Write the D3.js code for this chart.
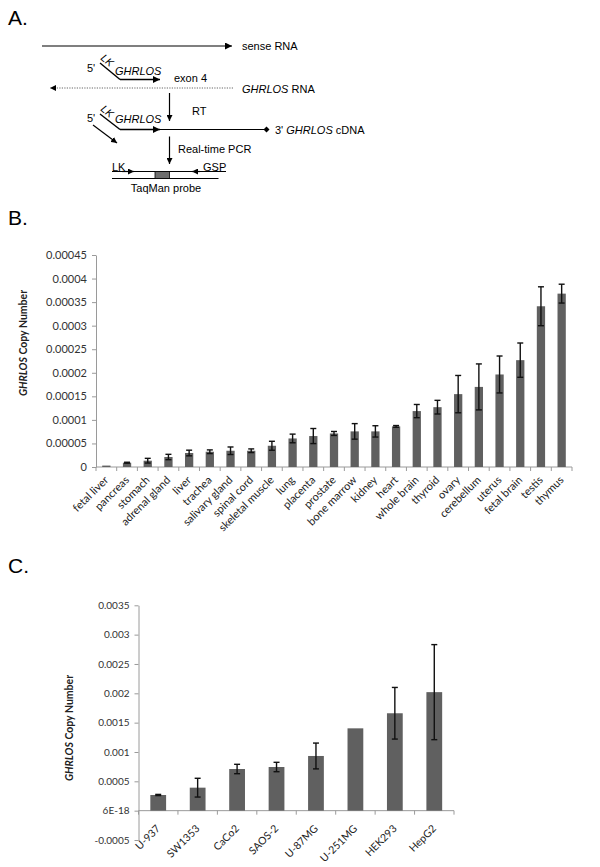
<!DOCTYPE html>
<html><head><meta charset="utf-8">
<script src="https://cdn.jsdelivr.net/npm/d3@7"></script>
<style>
body{margin:0;background:#fff;}
svg{display:block;}
</style></head>
<body>
<svg id="fig" width="600" height="867"></svg>
<script>
// ---------- Data ----------
const tissues = ["fetal liver","pancreas","stomach","adrenal gland","liver","trachea","salivary gland","spinal cord","skeletal muscle","lung","placenta","prostate","bone marrow","kidney","heart","whole brain","thyroid","ovary","cerebellum","uterus","fetal brain","testis","thymus"];
const tissueValues = [0.000003,0.0000091,0.0000134,0.0000212,0.0000297,0.0000324,0.0000345,0.0000345,0.0000451,0.0000606,0.0000657,0.0000712,0.0000756,0.0000756,0.0000862,0.0001187,0.000127,0.0001547,0.00017,0.0001964,0.0002268,0.0003412,0.000368];
const tissueErrors = [0,0.000001,0.000005,0.0000057,0.000006,0.0000039,0.000008,0.0000039,0.0000095,0.0000092,0.000016,0.0000042,0.0000165,0.000012,0.0000018,0.000014,0.0000145,0.0000396,0.0000488,0.0000392,0.0000364,0.0000413,0.00002];
const tissueTicks = [0,0.00005,0.0001,0.00015,0.0002,0.00025,0.0003,0.00035,0.0004,0.00045];
const tissueTickLabels = ["0","0.00005","0.0001","0.00015","0.0002","0.00025","0.0003","0.00035","0.0004","0.00045"];

const cellLines = ["U-937","SW1353","CaCo2","SAOS-2","U-87MG","U-251MG","HEK293","HepG2"];
const cellValues = [0.000267,0.000392,0.00071,0.000744,0.000932,0.001403,0.00166,0.00202];
const cellErrors = [0.00001,0.00016,0.00008,0.00008,0.00022,null,0.00044,0.00081];
const cellTicks = [-0.0005,0,0.0005,0.001,0.0015,0.002,0.0025,0.003,0.0035];
const cellTickLabels = ["-0.0005","6E-18","0.0005","0.001","0.0015","0.002","0.0025","0.003","0.0035"];

// ---------- Setup ----------
const svg = d3.select("#fig");
const AF = "'Liberation Sans', Arial, sans-serif";
const CF = "Lato, 'Open Sans', sans-serif";
const BAR = "#606060";
const AXIS = "#9a9a9a";

// defs arrowheads
const defs = svg.append("defs");
defs.append("marker").attr("id","arr").attr("viewBox","0 0 10 10").attr("refX",10).attr("refY",5)
  .attr("markerWidth",7).attr("markerHeight",7).attr("markerUnits","userSpaceOnUse").attr("orient","auto")
  .append("path").attr("d","M0,0L10,5L0,10Z").attr("fill","#000");
defs.append("marker").attr("id","arrs").attr("viewBox","0 0 10 10").attr("refX",10).attr("refY",5)
  .attr("markerWidth",6).attr("markerHeight",6).attr("markerUnits","userSpaceOnUse").attr("orient","auto")
  .append("path").attr("d","M0,0L10,5L0,10Z").attr("fill","#000");

// ---------- Panel labels ----------
[["A.",25],["B.",225],["C.",573]].forEach(([t,y])=>{
  svg.append("text").attr("x",8).attr("y",y).attr("font-family",AF).attr("font-size",21).attr("fill","#000").text(t);
});

// ---------- Panel A diagram ----------
const A = svg.append("g");
function line(x1,y1,x2,y2,opts={}){
  const l = A.append("line").attr("x1",x1).attr("y1",y1).attr("x2",x2).attr("y2",y2)
    .attr("stroke",opts.stroke||"#000").attr("stroke-width",opts.w||1.2);
  if(opts.dash) l.attr("stroke-dasharray",opts.dash);
  if(opts.end) l.attr("marker-end","url(#"+opts.end+")");
  return l;
}
function txt(x,y,s,opts={}){
  const t = A.append("text").attr("x",x).attr("y",y).attr("font-family",AF).attr("font-size",opts.size||11).attr("fill","#000").text(s);
  if(opts.rot) t.attr("transform",`rotate(${opts.rot},${x},${y})`);
  if(opts.anchor) t.attr("text-anchor",opts.anchor);
  return t;
}
function richTxt(x,y,parts,opts={}){
  const t = txt(x,y,"",opts);
  parts.forEach(([s,it])=>t.append("tspan").attr("font-style",it?"italic":"normal").text(s));
  return t;
}
// sense RNA
line(42,46,232,46,{end:"arr"});
txt(242,50,"sense RNA");
// primer 1
txt(87,72,"5'");
txt(100,59,"LK",{rot:40,size:10.5}).attr("font-style","italic");
line(100,63,120,79.5,{w:1.4});
line(120,79.5,160,79.5,{w:1.6,end:"arr"});
richTxt(115,75,[["GHRLOS",true]]);
txt(174,82,"exon 4");
// antisense RNA dotted
line(233,88,50,88,{w:0.9,dash:"1.2,1.3",stroke:"#555",end:"arrs"});
richTxt(242,93,[["GHRLOS",true],[" RNA",false]]);
// RT arrow
line(169.5,93,169.5,121,{w:1.2,end:"arrs"});
txt(192,115,"RT");
// primer 2 / cDNA
txt(87,122,"5'");
txt(100,110,"LK",{rot:40,size:10.5}).attr("font-style","italic");
line(100,114,120,129.5,{w:1.4});
line(120,129.5,160,129.5,{w:1.6,end:"arr"});
line(160,129.5,266.5,129.5,{w:1.2});
A.append("path").attr("d","M266.5,126.5L269.5,129.5L266.5,132.5L263.5,129.5Z").attr("fill","#000");
richTxt(115,123,[["GHRLOS",true]]);
richTxt(275,133.5,[["3'  ",false],["GHRLOS",true],[" cDNA",false]]);
// diagonal arrow
line(93,125,117,143,{w:1.2,end:"arrs"});
// Real-time PCR arrow
line(169.5,136.5,169.5,164,{w:1.2,end:"arrs"});
txt(178,152.5,"Real-time PCR");
// PCR product
line(112,171.5,226,171.5,{w:1});
line(122,171.5,134,171.5,{w:1.2,end:"arrs"});
line(200,171.5,192,171.5,{w:1.2,end:"arrs"});
line(112,178.5,218.5,178.5,{w:1.2});
A.append("rect").attr("x",155).attr("y",171.5).attr("width",14.5).attr("height",7).attr("fill","#6e6e6e").attr("stroke","#000").attr("stroke-width",0.8);
txt(112,171,"LK");
txt(203,171,"GSP");
txt(166,192,"TaqMan probe",{anchor:"middle"});

// ---------- Generic bar chart ----------
function barChart(cfg){
  const g = svg.append("g");
  const x = d3.scaleBand().domain(cfg.cats).range(cfg.xr).paddingInner(0.6).paddingOuter(0.3);
  const y = d3.scaleLinear().domain(cfg.yd).range(cfg.yr);
  // y axis
  const ya = d3.axisLeft(y).tickValues(cfg.ticks).tickFormat((d,i)=>cfg.tickLabels[i]).tickSize(4).tickSizeOuter(0);
  const yg = g.append("g").attr("transform",`translate(${cfg.xr[0]},0)`).call(ya);
  yg.select(".domain").attr("stroke",AXIS);
  yg.selectAll(".tick line").attr("stroke",AXIS);
  yg.selectAll(".tick text").attr("font-family",CF).attr("font-size",cfg.yfs).attr("fill","#333").attr("x",-9);
  // x axis at zero
  const y0 = y(0);
  g.append("line").attr("x1",cfg.xr[0]).attr("x2",cfg.xr[1]).attr("y1",y0).attr("y2",y0).attr("stroke",AXIS);
  const bounds = d3.range(cfg.cats.length+1).map(i=>cfg.xr[0]+i*x.step());
  g.selectAll(".bt").data(bounds).join("line").attr("x1",d=>d).attr("x2",d=>d).attr("y1",y0).attr("y2",y0+4).attr("stroke",AXIS);
  // bars
  g.selectAll(".bar").data(cfg.cats).join("rect")
    .attr("x",d=>x(d)).attr("width",x.bandwidth())
    .attr("y",(d,i)=>y(cfg.vals[i])).attr("height",(d,i)=>y0-y(cfg.vals[i]))
    .attr("fill",BAR);
  // error bars
  const eb = cfg.cats.map((c,i)=>({c,v:cfg.vals[i],e:cfg.errs[i]})).filter(d=>d.e);
  const cx = d=>x(d.c)+x.bandwidth()/2;
  g.selectAll(".ev").data(eb).join("line").attr("x1",cx).attr("x2",cx)
    .attr("y1",d=>y(d.v+d.e)).attr("y2",d=>y(d.v-d.e)).attr("stroke","#111").attr("stroke-width",1.4);
  ["p","m"].forEach(s=>{
    g.selectAll(".cap"+s).data(eb).join("line").attr("x1",d=>cx(d)-cfg.cap).attr("x2",d=>cx(d)+cfg.cap)
      .attr("y1",d=>y(s==="p"?d.v+d.e:d.v-d.e)).attr("y2",d=>y(s==="p"?d.v+d.e:d.v-d.e))
      .attr("stroke","#111").attr("stroke-width",1.4);
  });
  // category labels
  g.selectAll(".cl").data(cfg.cats).join("text")
    .attr("transform",d=>`translate(${x(d)+x.bandwidth()/2+cfg.lx},${y0+cfg.ly}) rotate(-45)`)
    .attr("text-anchor","end").attr("dy","0.35em")
    .attr("font-family",CF).attr("font-size",cfg.fs).attr("fill","#222").text(d=>d);
  // y title
  const t = g.append("text").attr("transform",`translate(${cfg.tx},${cfg.ty}) rotate(-90)`)
    .attr("text-anchor","middle").attr("font-family",CF).attr("font-size",cfg.tfs).attr("font-weight","bold").attr("fill","#222");
  t.append("tspan").attr("font-style","italic").text("GHRLOS");
  t.append("tspan").text(" Copy Number");
}

barChart({cats:tissues, vals:tissueValues, errs:tissueErrors, ticks:tissueTicks, tickLabels:tissueTickLabels,
  xr:[96,572], yd:[0,0.00045], yr:[467,255], fs:11, yfs:11, tfs:10.5, cap:3, lx:0, ly:11, tx:27, ty:343});
barChart({cats:cellLines, vals:cellValues, errs:cellErrors, ticks:cellTicks, tickLabels:cellTickLabels,
  xr:[138.5,454], yd:[-0.0005,0.0035], yr:[840,605.3], fs:10.5, yfs:10, tfs:10.5, cap:3, lx:0, ly:16, tx:73, ty:728});
</script>
</body></html>
